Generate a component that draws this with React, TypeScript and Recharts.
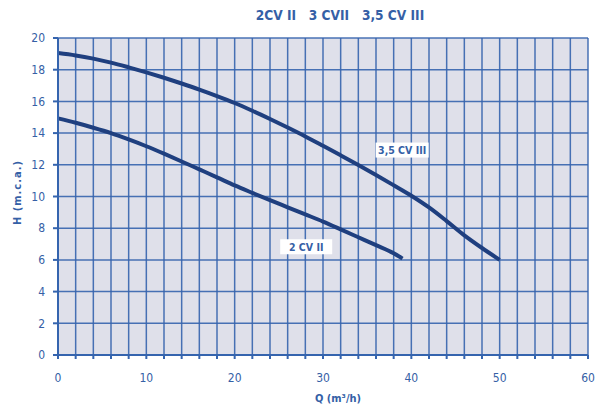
import React from "react";
import {
  LineChart,
  Line,
  XAxis,
  YAxis,
  CartesianGrid,
  ReferenceDot,
} from "recharts";

// flow (m3/h) and head (m.c.a.)
const flow35 = [0, 2, 4, 6, 8, 10, 12, 14, 16, 18, 20, 22, 24, 26, 28, 30, 32, 34, 36, 38, 40, 42, 44, 46, 48, 50];
const head35 = [19.05, 18.9, 18.7, 18.45, 18.15, 17.83, 17.49, 17.13, 16.75, 16.34, 15.9, 15.41, 14.89, 14.35, 13.79, 13.2, 12.6, 11.99, 11.36, 10.71, 10.05, 9.31, 8.45, 7.55, 6.75, 6.0];

const flow2 = [0, 2, 4, 6, 8, 10, 12, 14, 16, 18, 20, 22, 24, 26, 28, 30, 32, 34, 36, 38, 39];
const head2 = [14.93, 14.65, 14.34, 14.0, 13.6, 13.17, 12.7, 12.21, 11.71, 11.21, 10.7, 10.23, 9.77, 9.32, 8.87, 8.42, 7.93, 7.43, 6.93, 6.42, 6.08];

const xTicks = [0, 2, 4, 6, 8, 10, 12, 14, 16, 18, 20, 22, 24, 26, 28, 30, 32, 34, 36, 38, 40, 42, 44, 46, 48, 50, 52, 54, 56, 58, 60];
const yTicks = [0, 2, 4, 6, 8, 10, 12, 14, 16, 18, 20];

const title = "2CV II\u00a0\u00a0\u00a03 CVII\u00a0\u00a0\u00a03,5 CV III";
const labels = [
  { name: "3,5 CV III", q: 38.96, h: 12.93, w: 53 },
  { name: "2 CV II", q: 28.1, h: 6.83, w: 52 },
];

const curve35 = flow35.map((q, i) => ({ q, h: head35[i] }));
const curve2 = flow2.map((q, i) => ({ q, h: head2[i] }));

const FONT = "'DejaVu Sans Condensed', 'Liberation Sans Narrow', 'Roboto', sans-serif";
const TEXT = "#3560a6";
const GRID = "#3564ae";
const CURVE = "#1f3f7f";

const CurveTag = (props: any) => {
  const { viewBox, value, w } = props;
  const cx = viewBox.x + (viewBox.width || 0) / 2;
  const cy = viewBox.y + (viewBox.height || 0) / 2;
  return (
    <g>
      <rect x={cx - w / 2} y={cy - 7.5} width={w} height={15} fill="#ffffff" />
      <text
        x={cx}
        y={cy}
        dy="0.36em"
        textAnchor="middle"
        fill={TEXT}
        fontFamily={FONT}
        fontWeight="bold"
        fontSize={10.5}
      >
        {value}
      </text>
    </g>
  );
};

const YTitle = (props: any) => {
  const { viewBox } = props;
  const cx = 17;
  const cy = viewBox.y + viewBox.height / 2 - 4;
  return (
    <text
      x={cx}
      y={cy}
      transform={`rotate(-90 ${cx} ${cy})`}
      dy="0.36em"
      textAnchor="middle"
      fill={TEXT}
      fontFamily={FONT}
      fontWeight="bold"
      fontSize={11}
      letterSpacing={1}
    >
      H (m.c.a.)
    </text>
  );
};

export default function App() {
  return (
    <div style={{ position: "relative", width: 600, height: 411, background: "#fff" }}>
      <style>{"body{margin:0}"}</style>
      <div
        style={{
          position: "absolute",
          top: 7,
          left: 0,
          width: 680,
          textAlign: "center",
          fontFamily: FONT,
          fontWeight: "bold",
          fontSize: 13.6,
          color: TEXT,
          whiteSpace: "nowrap",
        }}
      >
        {title}
      </div>
      <LineChart
        width={600}
        height={411}
        margin={{ top: 38, right: 12, left: 0, bottom: 0 }}
      >
        <CartesianGrid
          fill="#dfe0ea"
          stroke={GRID}
          strokeWidth={1.5}
          strokeOpacity={0.9}
        />
        <XAxis
          type="number"
          dataKey="q"
          domain={[0, 60]}
          ticks={xTicks}
          interval={0}
          height={56}
          tickSize={4}
          tickMargin={14}
          stroke={GRID}
          strokeWidth={2}
          tickFormatter={(v: number) => (v % 10 === 0 ? String(v) : "")}
          tick={{ fill: TEXT, fontFamily: FONT, fontSize: 12 }}
          label={{
            value: "Q (m³/h)",
            position: "insideBottom",
            offset: 9,
            dx: 15,
            fill: TEXT,
            fontFamily: FONT,
            fontWeight: "bold",
            fontSize: 11,
          }}
        />
        <YAxis
          type="number"
          domain={[0, 20]}
          ticks={yTicks}
          interval={0}
          width={58}
          tickSize={5}
          tickMargin={8}
          stroke={GRID}
          strokeWidth={2}
          tick={{ fill: TEXT, fontFamily: FONT, fontSize: 12 }}
          label={<YTitle />}
        />
        <Line
          data={curve35}
          dataKey="h"
          type="monotone"
          stroke={CURVE}
          strokeWidth={4}
          dot={false}
          isAnimationActive={false}
        />
        <Line
          data={curve2}
          dataKey="h"
          type="monotone"
          stroke={CURVE}
          strokeWidth={4}
          dot={false}
          isAnimationActive={false}
        />
        {labels.map((l) => (
          <ReferenceDot
            key={l.name}
            x={l.q}
            y={l.h}
            r={0}
            stroke="none"
            label={<CurveTag value={l.name} w={l.w} />}
          />
        ))}
      </LineChart>
    </div>
  );
}
